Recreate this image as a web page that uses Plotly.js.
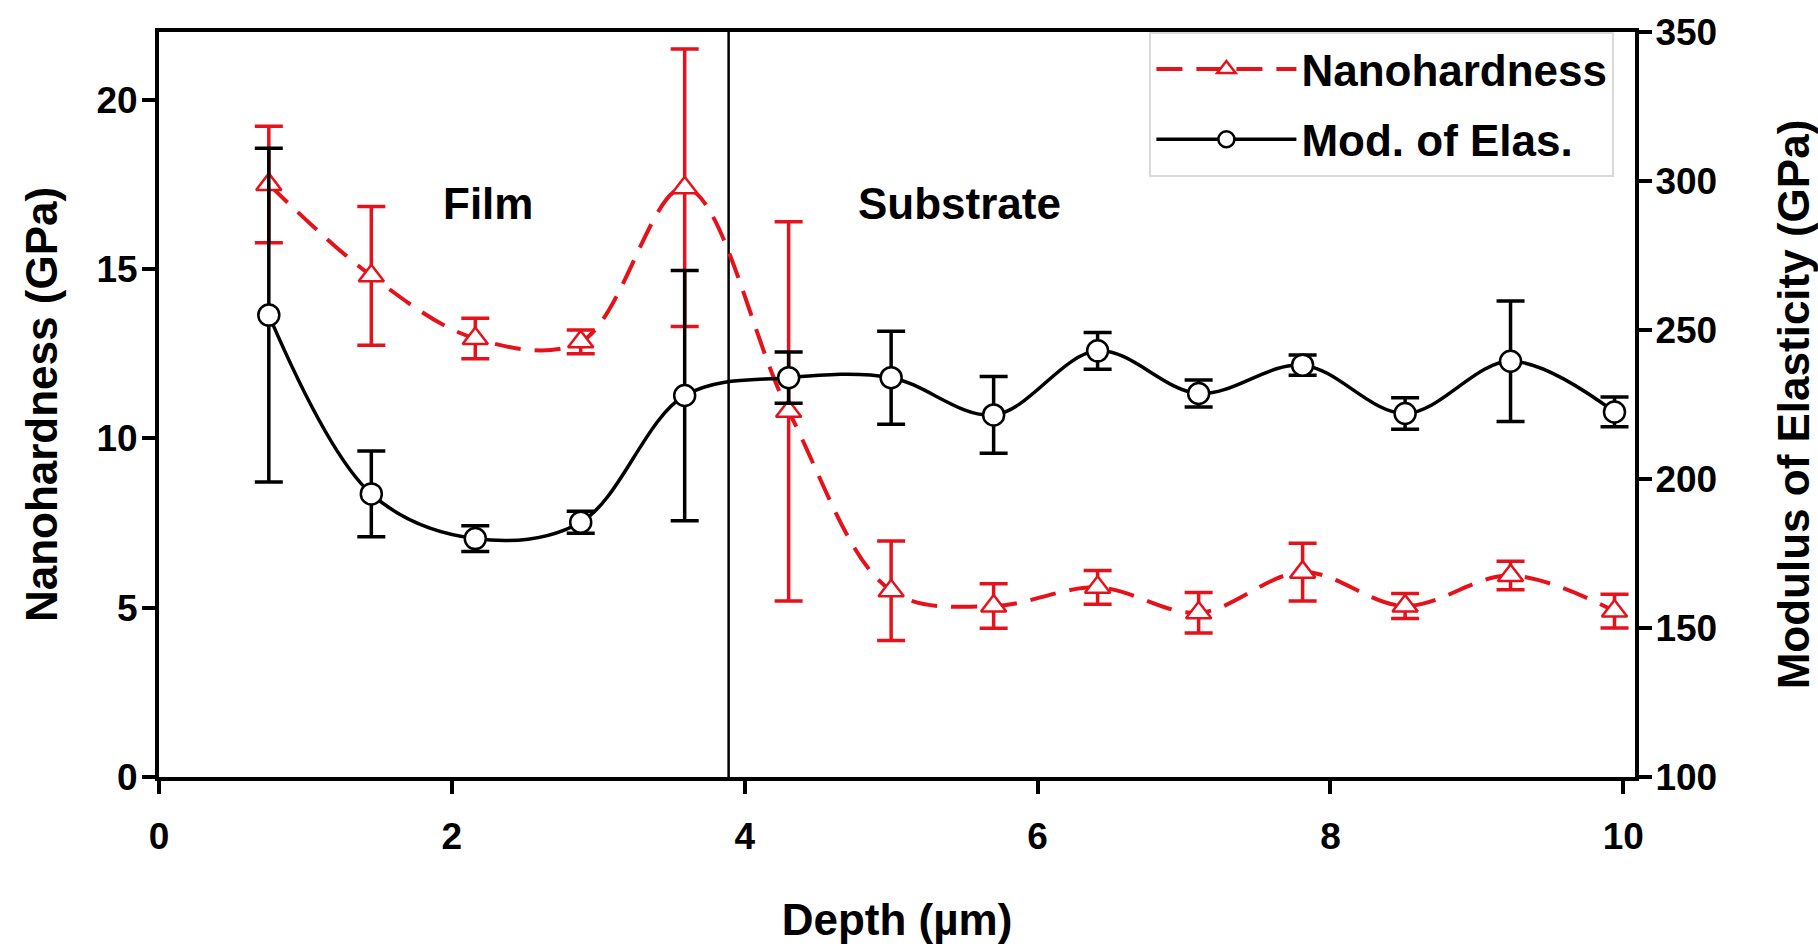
<!DOCTYPE html>
<html>
<head>
<meta charset="utf-8">
<script src="https://cdn.plot.ly/plotly-3.0.1.min.js"></script>
<style>
  html, body { margin: 0; padding: 0; background: #ffffff; }
  #chart { width: 1818px; height: 949px; }
</style>
</head>
<body>
<div id="chart"></div>
<script>
// ---- data ----
const depth        = [0.75, 1.45, 2.16, 2.88, 3.59, 4.30, 5.00, 5.70, 6.41, 7.10, 7.81, 8.51, 9.23, 9.94];
const hardness     = [17.5, 14.8, 12.95, 12.85, 17.4, 10.8, 5.5, 5.05, 5.6, 4.85, 6.05, 5.05, 5.95, 4.9];
const hardnessErr  = [1.72, 2.05, 0.6, 0.35, 4.1, 5.6, 1.47, 0.66, 0.5, 0.6, 0.85, 0.37, 0.42, 0.5];
const modulus      = [255, 195, 180, 185.5, 228, 234, 234, 221.5, 243, 228.7, 238.2, 222, 239.5, 222.5];
const modulusErr   = [56, 14.4, 4.3, 3.7, 42, 8.6, 15.6, 12.9, 6.2, 4.5, 3.4, 5.3, 20.2, 5];
const interfaceDepth = 3.89;
const xTicks = [0, 2, 4, 6, 8, 10];
const hTicks = [0, 5, 10, 15, 20];
const eTicks = [100, 150, 200, 250, 300, 350];
const regionLabels = ["Film", "Substrate"];
const regionLabelX = [2.25, 5.47];
const regionLabelY = [16.95, 16.95];

const RED = '#e5121b';
const FAM = 'Liberation Sans, Arial, sans-serif';
const tickFont = { family: FAM, size: 37, color: '#000', weight: 'bold' };
const titleFont = { family: FAM, size: 44, color: '#000', weight: 'bold' };

const traces = [
  {
    x: depth, y: hardness, name: 'Nanohardness', type: 'scatter', mode: 'lines+markers',
    xaxis: 'x', yaxis: 'y', legendgroup: 'h',
    line: { color: RED, width: 4, dash: '26px,14px', shape: 'spline', smoothing: 1 },
    marker: { symbol: 'triangle-up', size: 22, color: '#ffffff', line: { color: RED, width: 2.5 } },
    error_y: { type: 'data', array: hardnessErr, visible: true, color: RED, thickness: 3.5, width: 14 }
  },
  {
    x: depth, y: modulus, name: 'Mod. of Elas.', type: 'scatter', mode: 'lines+markers',
    xaxis: 'x', yaxis: 'y2', legendgroup: 'e',
    line: { color: '#000', width: 3.5, shape: 'spline', smoothing: 1 },
    marker: { symbol: 'circle', size: 21, color: '#ffffff', line: { color: '#000', width: 2.5 } },
    error_y: { type: 'data', array: modulusErr, visible: true, color: '#000', thickness: 3.5, width: 14 }
  }
];

const layout = {
  width: 1818, height: 949,
  paper_bgcolor: '#ffffff', plot_bgcolor: '#ffffff',
  margin: { l: 159, r: 183, t: 32, b: 172, pad: 0 },
  showlegend: true,
  legend: {
    x: 0.671, xanchor: 'left', y: 1, yanchor: 'top',
    bgcolor: '#ffffff', bordercolor: '#d9d9d9', borderwidth: 2,
    font: titleFont, itemwidth: 140, traceorder: 'grouped', tracegroupgap: 10
  },
  xaxis: {
    range: [0, 10.08], tickvals: xTicks, ticktext: xTicks.map(String),
    ticks: 'outside', ticklen: 13, tickwidth: 4, tickcolor: '#000',
    showline: true, linewidth: 4, linecolor: '#000', mirror: true,
    showgrid: false, zeroline: false, tickfont: tickFont, ticklabelstandoff: 11,
    title: { text: 'Depth (µm)', font: titleFont, standoff: 49 }
  },
  yaxis: {
    range: [0, 22], tickvals: hTicks, ticktext: hTicks.map(String),
    ticks: 'outside', ticklen: 13, tickwidth: 4, tickcolor: '#000',
    showline: true, linewidth: 4, linecolor: '#000',
    showgrid: false, zeroline: false, tickfont: tickFont, ticklabelstandoff: -3,
    title: { text: 'Nanohardness (GPa)', font: titleFont, standoff: 26 }
  },
  yaxis2: {
    overlaying: 'y', side: 'right',
    range: [100, 350], tickvals: eTicks, ticktext: eTicks.map(String),
    ticks: 'outside', ticklen: 13, tickwidth: 4, tickcolor: '#000',
    showline: true, linewidth: 4, linecolor: '#000',
    showgrid: false, zeroline: false, tickfont: tickFont, ticklabelstandoff: -4,
    title: { text: 'Modulus of Elasticity (GPa)', font: titleFont, standoff: 66 }
  },
  shapes: [
    { type: 'line', xref: 'x', yref: 'paper', x0: interfaceDepth, x1: interfaceDepth, y0: 0, y1: 1,
      line: { color: '#000', width: 2.5 }, layer: 'below' }
  ],
  annotations: regionLabels.map((t, i) => ({
    text: t, x: regionLabelX[i], y: regionLabelY[i], xref: 'x', yref: 'y',
    showarrow: false, font: titleFont, xanchor: 'center', yanchor: 'middle'
  }))
};

Plotly.newPlot('chart', traces, layout, { displayModeBar: false, staticPlot: true });
</script>
</body>
</html>
